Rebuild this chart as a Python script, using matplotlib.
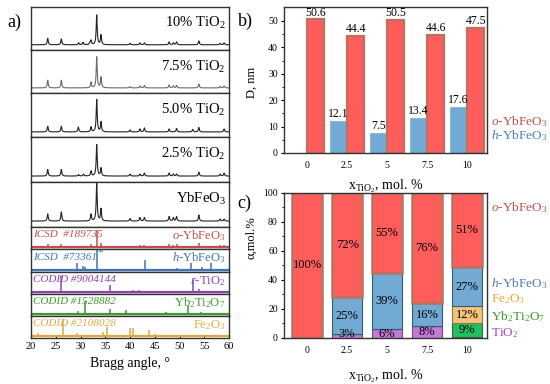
import matplotlib
matplotlib.use('Agg')
import matplotlib.pyplot as plt
import numpy as np

plt.rcParams['font.family'] = ['Liberation Serif', 'DejaVu Serif']
plt.rcParams['mathtext.fontset'] = 'custom'
plt.rcParams['mathtext.rm'] = 'Liberation Serif'
plt.rcParams['mathtext.it'] = 'Liberation Serif:italic'

# ---------------- a) XRD patterns: peak positions (2theta) and heights (a.u.)
sample_labels = ['10% TiO$_2$', '7.5% TiO$_2$', '5.0% TiO$_2$', '2.5% TiO$_2$', 'YbFeO$_3$']
pk_10 = [23.37, 26.12, 29.6, 30.5, 31.9, 32.12, 33.27, 34.14, 40.0, 42.0, 42.9, 47.9, 48.75, 49.4, 53.9, 58.2, 59.0]
ht_10 = [6.7, 6, 2, 2.5, 2, 4.3, 30.7, 10, 1.5, 2, 2, 3, 2, 3, 4, 1.5, 2]
pk_75 = [23.37, 26.12, 32.12, 33.27, 34.14, 40.0, 42.0, 42.9, 47.9, 48.75, 49.4, 53.9, 58.2, 59.0]
ht_75 = [8, 8, 6, 32, 11, 1.5, 2, 2.5, 3, 2, 2.5, 4, 1.5, 2]
pk_50 = [23.37, 26.12, 29.56, 32.12, 33.27, 34.14, 40.0, 42.0, 42.9, 47.9, 49.4, 52.66, 53.9, 59.0]
ht_50 = [5.7, 5.7, 5, 5, 32.7, 10, 2, 3, 4, 3, 3.5, 2.5, 4.5, 3]
pk_25 = [23.37, 26.12, 29.6, 30.6, 32.12, 33.27, 34.14, 40.0, 42.0, 42.9, 47.9, 48.75, 49.4, 53.9, 58.2, 59.0]
ht_25 = [6.7, 6.7, 1.5, 2, 5, 31.7, 8, 2, 2, 3, 3, 2, 2, 4, 2, 3]
pk_0 = [23.37, 26.12, 32.12, 33.27, 34.14, 40.0, 42.0, 42.9, 47.9, 48.75, 49.4, 53.9, 58.2, 59.0]
ht_0 = [7, 9, 6.7, 37, 12, 2.5, 3.5, 3.5, 4.5, 3.5, 4.5, 6, 2, 2]
samples = [(pk_10, ht_10), (pk_75, ht_75), (pk_50, ht_50), (pk_25, ht_25), (pk_0, ht_0)]
sample_colors = ['#222222', '#6a6a6a', '#222222', '#222222', '#222222']

# reference cards: stick positions and heights
ref_codes = ['ICSD  #189735', 'ICSD  #73361', 'CODID #9004144', 'CODID #1528882', 'CODID #2108028']
ref_names = [r'$\it{o}$-YbFeO$_3$', r'$\it{h}$-YbFeO$_3$', r'$\it{r}$-TiO$_2$',
             'Yb$_2$Ti$_2$O$_7$', 'Fe$_2$O$_3$']
ref_colors = ['#C0504D', '#3F73B8', '#8E44AD', '#3D9A2E', '#E0A93B']
st_o = ([23.37, 26.12, 32.12, 33.27, 34.14, 42.0, 42.9, 47.9, 48.75, 49.4, 53.9, 58.2, 59.0],
        [3, 3, 3, 17, 4, 2, 2, 3, 2, 3, 4, 1.5, 2])
st_h = ([29.36, 30.57, 30.85, 33.27, 43.0, 49.4, 52.26, 54.6, 56.3],
        [6.7, 4, 3, 19, 9, 1.5, 6.7, 3, 6.5])
st_ti = ([26.06, 35.96, 37.3, 40.7, 41.9, 52.8, 53.9],
         [15.7, 6.7, 1, 2, 1.5, 11.7, 3])
st_ybti = ([29.56, 30.9, 35.96, 39.2, 47.2, 51.65, 54.3],
           [3, 13, 5, 4, 1.5, 8, 1.5])
st_fe = ([21.5, 22.0, 26.4, 29.36, 34.5, 35.3, 37.8, 40.0, 40.7, 43.9, 45.05],
         [3, 1, 17, 3, 4, 9, 1, 7.7, 7.7, 6, 2])
sticks = [st_o, st_h, st_ti, st_ybti, st_fe]

# ---------------- b) crystallite size, c) phase composition
x_labels = ['0', '2.5', '5', '7.5', '10']
d_o = [50.6, 44.4, 50.5, 44.6, 47.5]
d_h = [np.nan, 12.1, 7.5, 13.4, 17.6]
frac_tio2 = [0, 3, 6, 8, 1]
frac_ybti = [0, 0, 0, 0, 9]
frac_fe = [0, 0, 0, 0, 12]
frac_h = [0, 25, 39, 16, 27]
frac_o = [100, 72, 55, 76, 51]

c_o_fill, c_o_edge = '#FF5C5C', '#B8735E'
c_h_fill = '#72AAD4'

fig = plt.figure(figsize=(5.5, 3.84), dpi=100)

# ---- panel a
gs = fig.add_gridspec(10, 1, left=0.0564, right=0.4164, top=0.9818, bottom=0.1198,
                      hspace=0, height_ratios=[43, 43, 44, 44, 45, 22, 23, 22, 22, 22])
xx = np.linspace(20, 60, 4000)
hw = 0.12
axes_a = []
for i, (pk, ht) in enumerate(samples):
    ax = fig.add_subplot(gs[i])
    y = np.zeros_like(xx)
    for p, h in zip(pk, ht):
        y += h / (1 + ((xx - p) / hw) ** 2)
    ax.plot(xx, y, color=sample_colors[i], lw=0.8)
    ax.set_ylim(-5.5, 39)
    ax.text(59.3, 0.62, sample_labels[i], ha='right', va='center', fontsize=10.5,
            transform=ax.get_xaxis_transform())
    axes_a.append(ax)
for i, (pk, ht) in enumerate(sticks):
    ax = fig.add_subplot(gs[5 + i])
    ax.vlines(pk, 0, ht, color=ref_colors[i], lw=1.1)
    ax.axhline(0, color=ref_colors[i], lw=1.6)
    ax.set_ylim(-2, 20)
    ax.text(20.4, 0.64, ref_codes[i], ha='left', va='center', fontsize=8, style='italic',
            color=ref_colors[i], transform=ax.get_xaxis_transform())
    ax.text(59.3, 0.6, ref_names[i], ha='right', va='center', fontsize=9,
            color=ref_colors[i], transform=ax.get_xaxis_transform())
    if i == 1:
        ax.text(33.5, 0.85, '*', ha='left', va='center', fontsize=8,
                color=ref_colors[i], transform=ax.get_xaxis_transform())
    axes_a.append(ax)
for ax in axes_a:
    ax.set_xlim(20, 60)
    ax.set_yticks([])
    ax.tick_params(axis='x', bottom=False, labelbottom=False)
    for s in ax.spines.values():
        s.set_color('#333333')
        s.set_linewidth(1.0)
axes_a[-1].set_xticks(np.arange(20, 61, 5))
axes_a[-1].tick_params(axis='x', bottom=True, labelbottom=True, direction='in',
                       length=2.5, labelsize=7.5, pad=3)
axes_a[-1].set_xlabel('Bragg angle, °', fontsize=10, labelpad=4)

# ---- panel b
pos = np.arange(len(x_labels))
w = 0.43
axb = fig.add_axes([0.5164, 0.6016, 0.3691, 0.3802])
axb.bar(pos - w / 2, d_h, w, color=c_h_fill, edgecolor=c_h_fill, lw=0.5)
axb.bar(pos + w / 2, d_o, w, color=c_o_fill, edgecolor=c_o_edge, lw=1.6)
for p, v in zip(pos, d_h):
    if not np.isnan(v):
        axb.text(p - w / 2, v + 0.3, f'{v:.1f}', ha='center', va='bottom', fontsize=8.5)
for p, v in zip(pos, d_o):
    axb.text(p + w / 2, v + 0.3, f'{v:.1f}', ha='center', va='bottom', fontsize=8.5)
axb.set_ylim(0, 55.3)
axb.set_yticks(np.arange(0, 51, 10))
axb.set_yticks(np.arange(5, 55, 10), minor=True)
axb.set_ylabel('D, nm', fontsize=9)
axb.yaxis.set_label_coords(-0.13, 0.48)
axb.text(1.02, 0.215, r'$\it{o}$-YbFeO$_3$', color='#C0504D', fontsize=9.5,
         transform=axb.transAxes, va='center')
axb.text(1.02, 0.12, r'$\it{h}$-YbFeO$_3$', color='#4A7EBB', fontsize=9.5,
         transform=axb.transAxes, va='center')

# ---- panel c
axc = fig.add_axes([0.5164, 0.1198, 0.3691, 0.3776])
wc = 0.75
layers = [(frac_tio2, '#C27AD6', '#7A4A8A', 0.8), (frac_ybti, '#22C060', '#3A6A30', 0.8),
          (frac_fe, '#F5C27A', '#8A7A40', 0.8), (frac_h, c_h_fill, '#2F5F6F', 0.8),
          (frac_o, c_o_fill, c_o_edge, 1.8)]
bottom = np.zeros(len(pos))
for vals, fc, ec, lw in layers:
    vals = np.array(vals, dtype=float)
    axc.bar(pos, vals, wc, bottom=bottom, color=fc, edgecolor=ec, lw=lw)
    for p, b, v in zip(pos, bottom, vals):
        if v >= 3:
            axc.text(p, max(b + v / 2, 3), f'{v:.0f}%', ha='center', va='center', fontsize=9)
    bottom += vals
axc.set_ylim(0, 100)
axc.set_yticks(np.arange(0, 101, 20))
axc.set_yticks(np.arange(10, 100, 20), minor=True)
axc.set_ylabel('α,mol.%', fontsize=9)
axc.yaxis.set_label_coords(-0.13, 0.69)
legend_c = [(0.897, r'$\it{o}$-YbFeO$_3$', '#C0504D'), (0.375, r'$\it{h}$-YbFeO$_3$', '#4A7EBB'),
            (0.27, 'Fe$_2$O$_3$', '#E3A83A'), (0.15, 'Yb$_2$Ti$_2$O$_7$', '#3D9A2E'),
            (0.035, 'TiO$_2$', '#9B4FC0')]
for yy, t, c in legend_c:
    axc.text(1.02, yy, t, color=c, fontsize=9.5, transform=axc.transAxes, va='center')

for ax in (axb, axc):
    ax.set_xlim(-0.58, 4.5)
    ax.set_xticks(pos)
    ax.set_xticklabels(x_labels)
    ax.set_xlabel(r'x$_{\rm TiO_2}$, mol. %', fontsize=10)
    ax.tick_params(axis='both', labelsize=7, direction='out', length=2.5, pad=2)
    ax.tick_params(axis='y', which='minor', direction='out', length=1.5)
    ax.tick_params(axis='x', length=0, pad=6)
    for s in ax.spines.values():
        s.set_color('#333333')
        s.set_linewidth(1.0)
axb.xaxis.set_label_coords(0.5, -0.17)
axc.xaxis.set_label_coords(0.5, -0.2)

fig.text(0.013, 0.943, 'a)', fontsize=13, va='center')
fig.text(0.432, 0.945, 'b)', fontsize=13, va='center')
fig.text(0.432, 0.471, 'c)', fontsize=13, va='center')

fig.savefig('out.png', dpi=100)
